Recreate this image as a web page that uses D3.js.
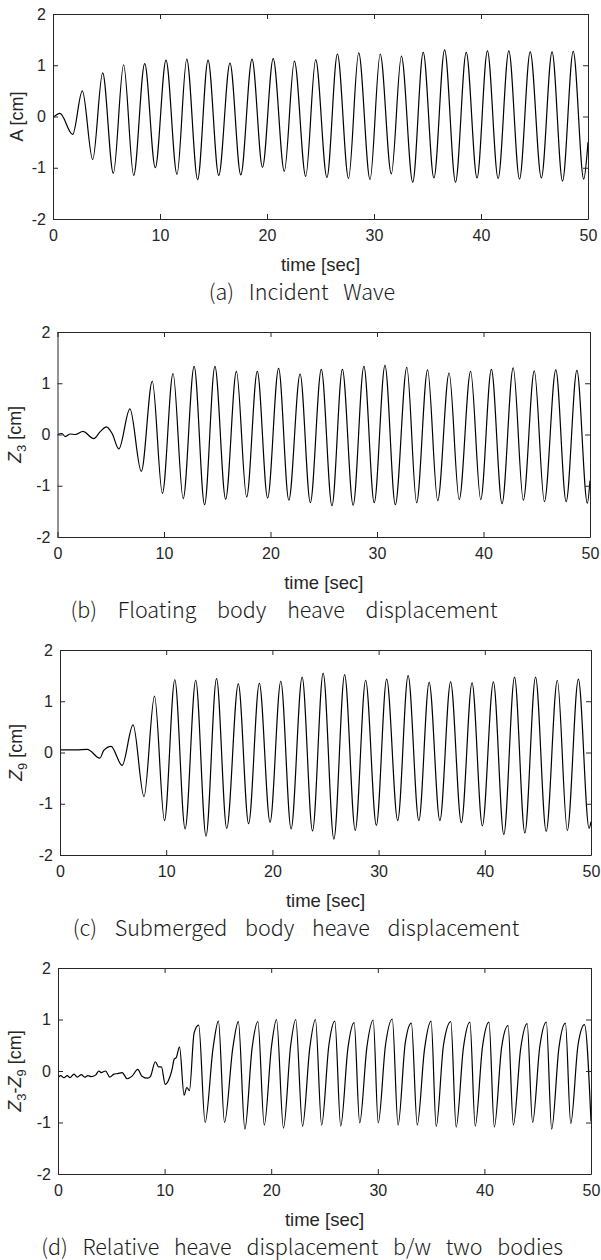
<!DOCTYPE html>
<head>
<meta charset="utf-8">
<script src="https://d3js.org/d3.v7.min.js"></script>
<style>
  body { margin: 0; background: #fff; }
</style>
</head>
<body>
<script>
// axis ticks shared by all four panels
var timeTicks = [0, 10, 20, 30, 40, 50];
var ampTicks = [-2, -1, 0, 1, 2];

// [time (s), value (cm)]: turning points of each trace
var incidentWave = [
  [0,-0.02],[0.65,0.06],[1.84,-0.35],[2.74,0.5],[3.71,-0.84],[4.64,0.85],[5.64,-1.11],[6.6,1.01],
  [7.54,-1.15],[8.57,1.03],[9.56,-1.0],[10.56,1.10],[11.59,-1.13],[12.5,1.12],[13.52,-1.23],[14.49,1.10],
  [15.49,-1.15],[16.54,1.04],[17.55,-1.14],[18.6,1.12],[19.58,-0.99],[20.58,1.13],[21.62,-1.07],[22.56,1.08],
  [23.62,-1.17],[24.55,1.11],[25.6,-1.19],[26.58,1.22],[27.62,-1.21],[28.57,1.24],[29.63,-1.23],[30.58,1.22],
  [31.62,-1.12],[32.56,1.18],[33.62,-1.28],[34.6,1.25],[35.6,-1.2],[36.6,1.30],[37.62,-1.28],[38.62,1.25],
  [39.63,-1.2],[40.6,1.28],[41.6,-1.21],[42.6,1.28],[43.6,-1.22],[44.6,1.26],[45.64,-1.2],[46.64,1.26],
  [47.62,-1.26],[48.62,1.27],[49.6,-1.22],[50,-0.5]
];

var floatingHeave = [
  [0,0],[0.41,0.02],[0.73,-0.04],[1.2,0.01],[1.67,0],[2.39,0.06],[3.4,-0.08],[4.03,0.06],[4.6,0.15],
  [5.13,0.02],[5.76,-0.28],[6.8,0.5],[7.87,-0.72],[8.9,1.04],[9.85,-1.15],[10.85,1.19],[11.8,-1.25],
  [12.83,1.33],[13.81,-1.37],[14.78,1.33],[15.79,-1.26],[16.8,1.23],[17.76,-1.22],[18.76,1.23],[19.73,-1.24],
  [20.76,1.29],[21.72,-1.28],[22.78,1.18],[23.74,-1.33],[24.77,1.27],[25.77,-1.39],[26.75,1.27],[27.76,-1.38],
  [28.77,1.33],[29.74,-1.33],[30.75,1.35],[31.72,-1.37],[32.8,1.31],[33.72,-1.33],[34.75,1.26],[35.7,-1.29],
  [36.77,1.2],[37.72,-1.27],[38.79,1.23],[39.74,-1.27],[40.74,1.27],[41.74,-1.35],[42.79,1.3],[43.74,-1.28],
  [44.77,1.24],[45.72,-1.31],[46.79,1.26],[47.76,-1.31],[48.77,1.25],[49.75,-1.34],[50,-0.9]
];

var submergedHeave = [
  [0,0.05],[1.5,0.05],[2.57,0.06],[3.75,-0.11],[4.12,0.04],[4.8,0.12],[5.85,-0.25],[6.88,0.54],
  [7.91,-0.86],[8.9,1.1],[9.84,-1.33],[10.81,1.42],[11.78,-1.49],[12.78,1.41],[13.75,-1.63],[14.74,1.44],
  [15.7,-1.48],[16.79,1.34],[17.76,-1.39],[18.77,1.35],[19.78,-1.36],[20.79,1.39],[21.76,-1.49],[22.8,1.47],
  [23.78,-1.53],[24.78,1.55],[25.79,-1.69],[26.8,1.52],[27.8,-1.52],[28.78,1.41],[29.79,-1.42],[30.76,1.43],
  [31.8,-1.33],[32.78,1.5],[33.79,-1.33],[34.76,1.37],[35.77,-1.33],[36.78,1.38],[37.79,-1.37],[38.8,1.36],
  [39.77,-1.43],[40.81,1.38],[41.79,-1.6],[42.8,1.47],[43.77,-1.57],[44.78,1.47],[45.78,-1.54],[46.83,1.41],
  [47.77,-1.52],[48.81,1.43],[49.82,-1.48],[50,-1.35]
];

var relativeHeave = [
  [0,-0.13],[0.25,-0.09],[0.56,-0.13],[0.87,-0.09],[1.12,-0.13],[1.5,-0.06],[1.81,-0.12],[2.19,-0.07],
  [2.5,-0.12],[2.81,-0.09],[3.12,-0.11],[3.52,-0.08],[3.84,0.0],[4.05,-0.03],[4.46,0.0],[4.86,-0.12],
  [5.24,-0.06],[5.6,-0.05],[6.02,-0.03],[6.48,-0.15],[6.95,-0.1],[7.48,0.03],[7.88,-0.1],[8.41,-0.14],
  [8.66,-0.11],[9.13,0.18],[9.44,0.08],[9.7,0.08],[10.06,-0.26],[10.37,-0.18],[10.69,0.02],[10.9,0.23],
  [11.09,0.26],[11.4,0.47],[11.83,-0.47],[12.08,-0.32],[12.33,-0.38],[12.77,0.74],[13.2,0.89],
  [13.8,-1.0],[14.55,0.45],[15.05,0.97],[15.62,-1.0],[16.4,0.45],[16.92,0.96],[17.53,-1.13],
  [18.21,0.45],[18.75,0.96],[19.35,-1.05],[20.03,0.48],[20.5,1.0],[21.15,-1.11],[21.83,0.5],[22.3,1.0],
  [22.94,-1.07],[23.62,0.45],[24.15,1.0],[24.73,-1.05],[25.41,0.5],[25.97,0.97],[26.52,-1.07],[27.2,0.45],
  [27.78,0.94],[28.3,-1.01],[28.98,0.47],[29.57,0.99],[30.04,-1.01],[30.72,0.5],[31.36,1.01],[31.9,-1.05],
  [32.58,0.55],[33.15,0.93],[33.7,-1.05],[34.38,0.42],[35.0,0.97],[35.48,-1.08],[36.16,0.5],[36.85,0.96],
  [37.35,-1.09],[38.03,0.45],[38.64,0.95],[39.14,-1.07],[39.82,0.47],[40.43,0.95],[40.93,-1.09],[41.61,0.45],
  [42.22,0.88],[42.72,-1.05],[43.4,0.43],[44.01,0.92],[44.52,-1.0],[45.2,0.48],[45.81,0.95],[46.31,-1.13],
  [46.99,0.45],[47.6,0.93],[48.1,-1.02],[48.78,0.5],[49.39,0.9],[50,-0.98]
];

var captions = [
  "(a) Incident Wave",
  "(b) Floating body heave displacement",
  "(c) Submerged body heave displacement",
  "(d) Relative heave displacement b/w two bodies"
];

// y-axis labels as pieces: [text, italic, subscript]
var yLabels = [
  [["A [cm]", 0, 0]],
  [["Z", 1, 0], ["3", 0, 1], [" [cm]", 0, 0]],
  [["Z", 1, 0], ["9", 0, 1], [" [cm]", 0, 0]],
  [["Z", 1, 0], ["3", 0, 1], ["-", 0, 0], ["Z", 1, 0], ["9", 0, 1], [" [cm]", 0, 0]]
];

var series = [incidentWave, floatingHeave, submergedHeave, relativeHeave];

// page layout of each panel: plot box, y-label baseline x, caption centre and word gap
var layout = [
  {l: 53,   t: 14,  r: 588, b: 219,  yl: 23, cx: 302, ws: 10},
  {l: 57.5, t: 332, r: 590, b: 537,  yl: 21, cx: 284, ws: 16},
  {l: 60,   t: 650, r: 591, b: 855,  yl: 22, cx: 296, ws: 13},
  {l: 58,   t: 968, r: 591, b: 1174, yl: 21, cx: 302, ws: 10}
];

var ink = "#262626";
var svg = d3.select("body").append("svg")
  .attr("width", 601)
  .attr("height", 1260)
  .style("font-family", "'Liberation Sans', Arial, sans-serif");

layout.forEach(function(p, i) {
  var w = p.r - p.l, h = p.b - p.t;
  var x = d3.scaleLinear().domain([0, 50]).range([0, w]);
  var y = d3.scaleLinear().domain([-2, 2]).range([h, 0]);
  var fmt = function(d) { return String(d); };

  var g = svg.append("g").attr("transform", "translate(" + p.l + "," + p.t + ")");

  g.append("clipPath").attr("id", "clip" + i)
    .append("rect").attr("width", w).attr("height", h);

  var line = d3.line()
    .x(function(d) { return x(d[0]); })
    .y(function(d) { return y(d[1]); })
    .curve(d3.curveMonotoneX);

  g.append("path")
    .datum(series[i])
    .attr("clip-path", "url(#clip" + i + ")")
    .attr("fill", "none")
    .attr("stroke", "#000")
    .attr("stroke-width", 1.2)
    .attr("d", line);

  // axes, ticks pointing inward on all four sides
  g.append("g").attr("transform", "translate(0," + h + ")")
    .call(d3.axisBottom(x).tickValues(timeTicks).tickFormat(fmt)
      .tickSizeInner(-5).tickSizeOuter(0).tickPadding(11));
  g.append("g")
    .call(d3.axisLeft(y).tickValues(ampTicks).tickFormat(fmt)
      .tickSizeInner(-5).tickSizeOuter(0).tickPadding(7));
  g.append("g")
    .call(d3.axisTop(x).tickValues(timeTicks).tickSizeInner(-5).tickSizeOuter(0).tickFormat(""));
  g.append("g").attr("transform", "translate(" + w + ",0)")
    .call(d3.axisRight(y).tickValues(ampTicks).tickSizeInner(-5).tickSizeOuter(0).tickFormat(""));

  g.selectAll(".domain, .tick line").attr("stroke", ink);
  g.selectAll(".tick text")
    .attr("fill", ink)
    .style("font-family", "'Liberation Sans', Arial, sans-serif")
    .style("font-weight", "normal")
    .style("font-size", "16px");

  // x label
  g.append("text")
    .attr("x", w / 2)
    .attr("y", h + 52)
    .attr("text-anchor", "middle")
    .attr("fill", ink)
    .style("font-weight", "normal")
    .style("font-size", "18.5px")
    .text("time [sec]");

  // y label, rotated, with subscripts
  var yl = svg.append("text")
    .attr("transform", "translate(" + p.yl + "," + (p.t + h / 2) + ") rotate(-90)")
    .attr("text-anchor", "middle")
    .attr("fill", ink)
    .style("font-weight", "normal")
    .style("font-size", "18px");
  var shift = 0;
  yLabels[i].forEach(function(part) {
    var ts = yl.append("tspan").text(part[0]);
    if (part[1]) ts.style("font-style", "italic");
    if (part[2]) { ts.attr("dy", 5).style("font-size", "13px"); shift = 5; }
    else if (shift) { ts.attr("dy", -shift); shift = 0; }
  });

  // caption
  svg.append("text")
    .attr("x", p.cx)
    .attr("y", p.b + 81)
    .attr("text-anchor", "middle")
    .attr("fill", "#1a1a1a")
    .style("font-family", "'Noto Sans CJK KR', 'Noto Sans', sans-serif")
    .style("font-weight", 300)
    .style("font-size", "21.5px")
    .style("word-spacing", p.ws + "px")
    .text(captions[i]);
});
</script>
</body>
